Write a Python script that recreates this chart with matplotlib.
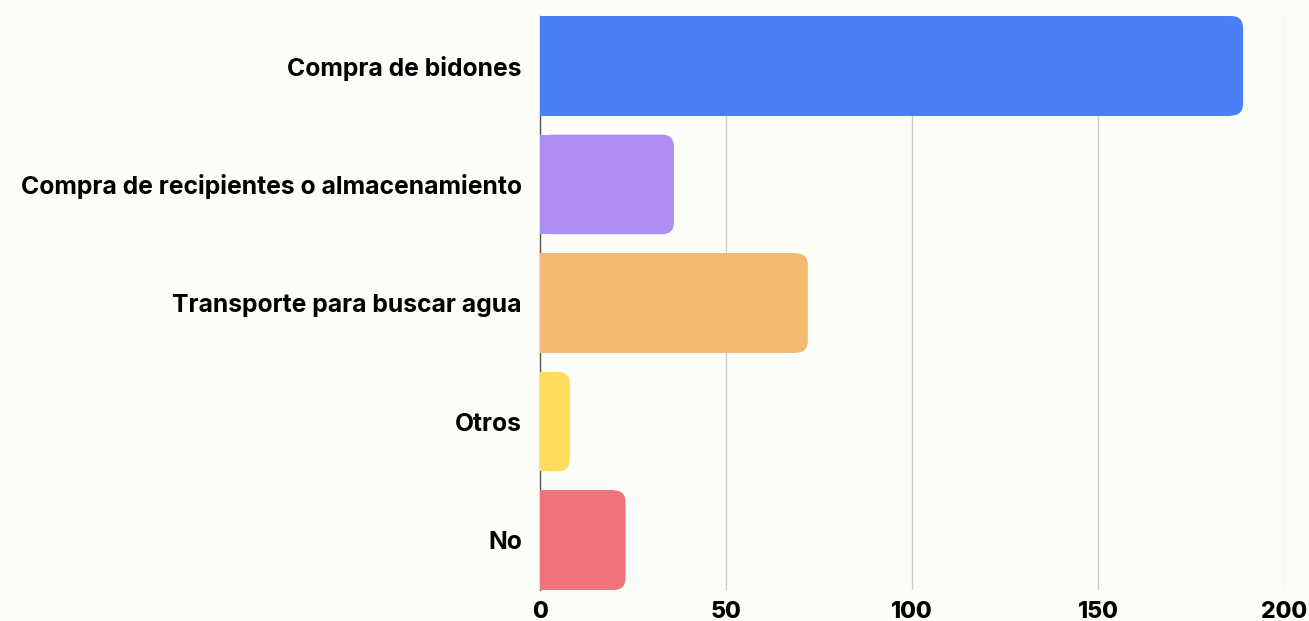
import matplotlib
matplotlib.use('Agg')
import matplotlib.pyplot as plt
from matplotlib.patches import FancyBboxPatch, Rectangle

categorias = ['Compra de bidones', 'Compra de recipientes o almacenamiento',
              'Transporte para buscar agua', 'Otros', 'No']
valores = [189, 36, 72, 8, 23]
colores = ['#4A80F7', '#AF8EF4', '#F3B970', '#FFDD5C', '#EF737D']
ticks_x = [0, 50, 100, 150, 200]

fondo = '#FDFDF8'
plt.rcParams['font.family'] = ['Inter', 'DejaVu Sans']

fig = plt.figure(figsize=(13.09, 6.21), dpi=100, facecolor=fondo)
ax = fig.add_axes([540/1309, 1 - 590/621, 744/1309, 574/621])
ax.set_facecolor(fondo)

ax.set_xlim(0, 200)
ax.set_ylim(4.42, -0.42)

alto = 0.84
rx = 12 / 3.72      # radio en unidades x
ry = 12 / 118.6     # radio en unidades y
for i, (v, c) in enumerate(zip(valores, colores)):
    y0 = i - alto / 2
    r = min(rx, v / 2)
    box = FancyBboxPatch((0, y0), v, alto,
                         boxstyle=f"round,pad=0,rounding_size={r}",
                         mutation_aspect=ry / rx, fc=c, ec='none', zorder=3)
    ax.add_patch(box)
    ax.add_patch(Rectangle((0, y0), v - r, alto, fc=c, ec='none', zorder=3))

ax.set_xticks(ticks_x)
ax.set_xticklabels([str(t) for t in ticks_x], fontsize=16.5, fontweight='heavy')
ax.set_yticks(range(len(categorias)))
ax.set_yticklabels(categorias, fontsize=17.8, fontweight='bold')
ax.tick_params(axis='x', length=0, pad=8)
ax.tick_params(axis='y', length=0, pad=13)

ax.grid(axis='x', color='#CCCCCC', linewidth=1, zorder=0)
for s in ['top', 'right', 'bottom']:
    ax.spines[s].set_visible(False)
ax.spines['left'].set_color('#555555')
ax.spines['left'].set_linewidth(1)

fig.savefig('out.png', dpi=100, facecolor=fondo)
